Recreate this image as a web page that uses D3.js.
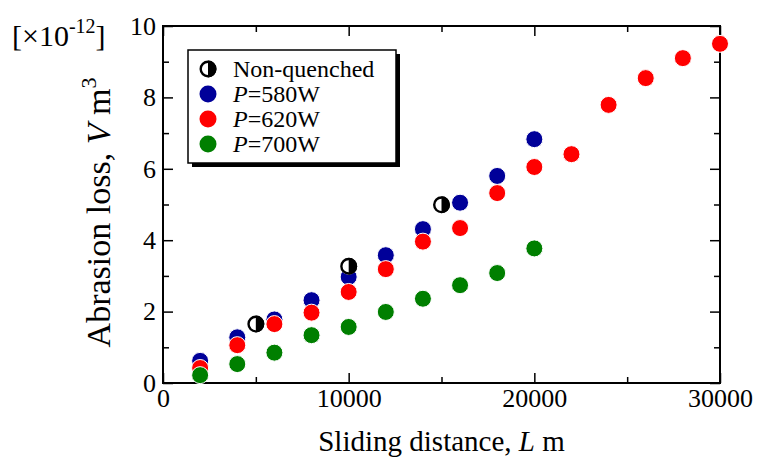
<!DOCTYPE html>
<html>
<head>
<meta charset="utf-8">
<script src="https://cdn.jsdelivr.net/npm/d3@7"></script>
<style>
  body { margin: 0; background: #fff; }
  svg text { font-family: "Liberation Serif", "Times New Roman", serif; }
</style>
</head>
<body>
<svg id="chart" width="761" height="459"></svg>
<script>
// Data (volume in 1e-12 m^3)
const distP580 = [2000, 4000, 6000, 8000, 10000, 12000, 14000, 16000, 18000, 20000];
const lossP580 = [0.62, 1.28, 1.78, 2.32, 2.97, 3.58, 4.31, 5.05, 5.80, 6.83];

const distP620 = [2000, 4000, 6000, 8000, 10000, 12000, 14000, 16000, 18000, 20000, 22000, 24000, 26000, 28000, 30000];
const lossP620 = [0.42, 1.06, 1.65, 1.97, 2.55, 3.19, 3.96, 4.34, 5.32, 6.05, 6.41, 7.79, 8.54, 9.10, 9.50];

const distP700 = [2000, 4000, 6000, 8000, 10000, 12000, 14000, 16000, 18000, 20000];
const lossP700 = [0.22, 0.53, 0.85, 1.34, 1.57, 1.99, 2.36, 2.74, 3.08, 3.77];

const distNQ = [5000, 10000, 15000];
const lossNQ = [1.65, 3.27, 4.99];

const xMajor = [0, 10000, 20000, 30000];
const xMinor = [5000, 15000, 25000];
const yMajor = [0, 2, 4, 6, 8, 10];
const yMinor = [1, 3, 5, 7, 9];

const legendLabels = ["Non-quenched", "580W", "620W", "700W"];

const colors = { p580: "#000099", p620: "#ff0000", p700: "#007f00" };

const serif = "'Liberation Serif', 'Times New Roman', serif";

const margin = { top: 26, right: 41, bottom: 76, left: 163 };
const W = 761, H = 459;
const width = W - margin.left - margin.right;
const height = H - margin.top - margin.bottom;

const svg = d3.select("#chart");
const g = svg.append("g").attr("transform", `translate(${margin.left},${margin.top})`);

const x = d3.scaleLinear().domain([0, 30000]).range([0, width]);
const y = d3.scaleLinear().domain([0, 10]).range([height, 0]);

// inward ticks on all four sides
function styleAxis(sel) {
  sel.attr("font-family", serif).attr("font-size", 26);
  sel.select(".domain").remove();
  sel.selectAll(".tick line").attr("stroke", "#000").attr("stroke-width", 1.5);
  sel.selectAll("text").attr("fill", "#000");
}

g.append("g").attr("transform", `translate(0,${height})`)
  .call(d3.axisBottom(x).tickValues(xMajor).tickSize(-10).tickPadding(6).tickFormat(d3.format("d")))
  .call(styleAxis);
g.append("g").attr("transform", `translate(0,${height})`)
  .call(d3.axisBottom(x).tickValues(xMinor).tickSize(-6).tickFormat(""))
  .call(styleAxis);
g.append("g")
  .call(d3.axisTop(x).tickValues(xMajor).tickSize(-10).tickFormat(""))
  .call(styleAxis);
g.append("g")
  .call(d3.axisTop(x).tickValues(xMinor).tickSize(-6).tickFormat(""))
  .call(styleAxis);

g.append("g")
  .call(d3.axisLeft(y).tickValues(yMajor).tickSize(-10).tickPadding(7).tickFormat(d3.format("d")))
  .call(styleAxis);
g.append("g")
  .call(d3.axisLeft(y).tickValues(yMinor).tickSize(-6).tickFormat(""))
  .call(styleAxis);
g.append("g").attr("transform", `translate(${width},0)`)
  .call(d3.axisRight(y).tickValues(yMajor).tickSize(-10).tickFormat(""))
  .call(styleAxis);
g.append("g").attr("transform", `translate(${width},0)`)
  .call(d3.axisRight(y).tickValues(yMinor).tickSize(-6).tickFormat(""))
  .call(styleAxis);

g.append("rect")
  .attr("width", width).attr("height", height)
  .attr("fill", "none").attr("stroke", "#000").attr("stroke-width", 2);

// markers
const r = 8.5;
function series(dist, loss, color) {
  g.append("g").selectAll("circle")
    .data(dist.map((d, i) => ({ d, v: loss[i] })))
    .join("circle")
    .attr("cx", p => x(p.d))
    .attr("cy", p => y(p.v))
    .attr("r", r)
    .attr("fill", color)
    .attr("stroke", "#fff")
    .attr("stroke-width", 1);
}
series(distP580, lossP580, colors.p580);
series(distP620, lossP620, colors.p620);
series(distP700, lossP700, colors.p700);

// half-filled marker for non-quenched
function halfMarker(sel, rr) {
  sel.append("circle").attr("r", rr).attr("fill", "#fff");
  sel.append("path")
    .attr("d", `M0,${-rr} A${rr},${rr} 0 0 1 0,${rr} Z`)
    .attr("fill", "#000");
  sel.append("circle").attr("r", rr - 1.2).attr("fill", "none")
    .attr("stroke", "#000").attr("stroke-width", 2.4);
}
distNQ.forEach((d, i) => {
  g.append("g")
    .attr("transform", `translate(${x(d)},${y(lossNQ[i])})`)
    .call(halfMarker, r);
});

// legend
const lg = svg.append("g").attr("transform", "translate(188,50)");
lg.append("rect").attr("x", 4).attr("y", 4).attr("width", 208).attr("height", 113).attr("fill", "#000");
lg.append("rect").attr("width", 208).attr("height", 113)
  .attr("fill", "#fff").attr("stroke", "#000").attr("stroke-width", 1.5);

const legendColors = [null, colors.p580, colors.p620, colors.p700];
legendLabels.forEach((lab, i) => {
  const cy = 19 + i * 25;
  if (i === 0) {
    lg.append("g").attr("transform", `translate(20,${cy})`).call(halfMarker, 8.5);
  } else {
    lg.append("circle").attr("cx", 20).attr("cy", cy).attr("r", 8.5).attr("fill", legendColors[i]);
  }
  const t = lg.append("text").attr("x", 45).attr("y", cy + 8)
    .attr("font-family", serif).attr("font-size", 24).attr("fill", "#000");
  if (i === 0) {
    t.text(lab);
  } else {
    t.append("tspan").attr("font-style", "italic").text("P");
    t.append("tspan").text("=" + lab);
  }
});

// axis titles
const xt = svg.append("text")
  .attr("x", margin.left + width / 2).attr("y", 451)
  .attr("text-anchor", "middle").attr("font-family", serif).attr("font-size", 29);
xt.append("tspan").text("Sliding distance, ");
xt.append("tspan").attr("font-style", "italic").text("L");
xt.append("tspan").text(" m");

const yt = svg.append("text")
  .attr("transform", `translate(110,${margin.top + height / 2 + 8}) rotate(-90)`)
  .attr("text-anchor", "middle").attr("font-family", serif).attr("font-size", 34);
yt.append("tspan").text("Abrasion loss, ");
yt.append("tspan").attr("font-style", "italic").text("V");
yt.append("tspan").text(" m");
yt.append("tspan").attr("font-size", 22).attr("dy", -14).text("3");

// scale factor
const sf = svg.append("text").attr("x", 12).attr("y", 46)
  .attr("font-family", serif).attr("font-size", 30);
sf.append("tspan").text("[\u00d710");
sf.append("tspan").attr("font-size", 20).attr("dy", -13).text("-12");
sf.append("tspan").attr("dy", 13).text("]");
</script>
</body>
</html>
